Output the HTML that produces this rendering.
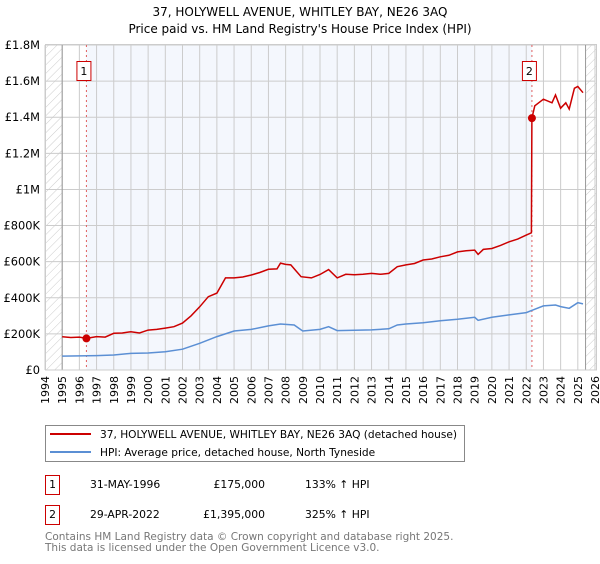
<!DOCTYPE html>
<html><head><meta charset="utf-8"><style>
body{margin:0;background:#fff;width:600px;height:560px;overflow:hidden;font-family:"DejaVu Sans","Liberation Sans",sans-serif;}
svg text{font-family:"DejaVu Sans","Liberation Sans",sans-serif;}
</style></head><body>
<svg id="c" width="600" height="560" xmlns="http://www.w3.org/2000/svg">
<defs><pattern id="hatch" width="6" height="6" patternUnits="userSpaceOnUse" patternTransform="rotate(45)"><line x1="0" y1="0" x2="0" y2="6" stroke="#ccc" stroke-width="1"/></pattern></defs>
<text x="300" y="16" text-anchor="middle" font-size="12">37, HOLYWELL AVENUE, WHITLEY BAY, NE26 3AQ</text>
<text x="300" y="33" text-anchor="middle" font-size="12">Price paid vs. HM Land Registry's House Price Index (HPI)</text>
<g id="plot"></g>
<g>
<rect x="45.5" y="425.5" width="419" height="36" fill="#fff" stroke="#888"/>
<line x1="50" y1="434" x2="91" y2="434" stroke="#cc0000" stroke-width="2"/>
<text x="100" y="438" font-size="10.6">37, HOLYWELL AVENUE, WHITLEY BAY, NE26 3AQ (detached house)</text>
<line x1="50" y1="452" x2="91" y2="452" stroke="#5b8fd4" stroke-width="2"/>
<text x="100" y="456" font-size="10.6">HPI: Average price, detached house, North Tyneside</text>
</g>
<g font-size="10.8">
<rect x="45.5" y="475.5" width="14" height="19" fill="#fff" stroke="#cc0000"/>
<text x="52.5" y="488" text-anchor="middle">1</text>
<text x="90" y="488">31-MAY-1996</text>
<text x="265" y="488" text-anchor="end">£175,000</text>
<text x="305" y="488">133% ↑ HPI</text>
<rect x="45.5" y="505.5" width="14" height="19" fill="#fff" stroke="#cc0000"/>
<text x="52.5" y="518" text-anchor="middle">2</text>
<text x="90" y="518">29-APR-2022</text>
<text x="265" y="518" text-anchor="end">£1,395,000</text>
<text x="305" y="518">325% ↑ HPI</text>
</g>
<text x="45" y="540" font-size="10.5" fill="#777">Contains HM Land Registry data © Crown copyright and database right 2025.</text>
<text x="45" y="551" font-size="10.5" fill="#777">This data is licensed under the Open Government Licence v3.0.</text>
</svg>
<script>
const years=[1995,1995.5,1996,1996.41,1997,1997.5,1998,1998.5,1999,1999.5,2000,2000.5,2001,2001.5,2002,2002.5,2003,2003.5,2004,2004.5,2005,2005.5,2006,2006.5,2007,2007.5,2007.7,2008,2008.3,2008.6,2008.9,2009.5,2010,2010.5,2011,2011.5,2012,2012.5,2013,2013.5,2014,2014.5,2015,2015.5,2016,2016.5,2017,2017.5,2018,2018.5,2019,2019.2,2019.5,2020,2020.5,2021,2021.5,2022,2022.3,2022.33];
const propertyValues=[184,180,182,175,185,182,203,205,212,205,221,225,232,240,260,300,350,406,426,510,510,515,526,540,558,560,592,585,582,550,517,510,529,556,510,530,528,530,535,530,535,572,582,590,609,615,627,635,654,660,664,640,668,673,690,710,725,747,760,1395];
const propYearsTail=[2022.5,2023,2023.5,2023.7,2024,2024.3,2024.5,2024.8,2025,2025.3];
const propValuesTail=[1463,1500,1480,1523,1450,1480,1445,1560,1570,1536];
const hpiYears=[1995,1996,1997,1998,1999,2000,2001,2002,2003,2004,2005,2006,2007,2007.7,2008.5,2008.9,2009,2010,2010.5,2011,2012,2013,2014,2014.5,2015,2016,2017,2018,2019,2019.2,2020,2021,2022,2022.3,2023,2023.7,2024,2024.5,2025,2025.3];
const hpiValues=[77,78,80,83,92,94,101,115,148,185,216,225,244,255,249,222,216,225,240,218,220,222,228,249,255,262,273,281,292,275,292,305,318,329,355,360,351,342,373,366];
const saleYears=[1996.41,2022.33];
const saleValues=[175,1395];
const saleLabels=["1","2"];
const yTicks=[0,200,400,600,800,1000,1200,1400,1600,1800];
const yTickLabels=["£0","£200K","£400K","£600K","£800K","£1M","£1.2M","£1.4M","£1.6M","£1.8M"];
const xTicks=[];for(let y=1994;y<=2026;y++)xTicks.push(y);

const X0=45,X1=595,Y0=370,Y1=45;
const xs=y=>X0+(y-1994)/(2026-1994)*(X1-X0);
const ys=v=>Y0-v/1800*(Y0-Y1);
const NS="http://www.w3.org/2000/svg";
const g=document.getElementById('plot');
function mk(t,a,p){const e=document.createElementNS(NS,t);for(const k in a)e.setAttribute(k,a[k]);(p||g).appendChild(e);return e;}

const bg=mk('rect',{x:X0,y:Y1,width:X1-X0,height:Y0-Y1,fill:'#fff'});


const sh=mk('rect',{x:xs(saleYears[0]),y:Y1,width:xs(saleYears[1])-xs(saleYears[0]),height:Y0-Y1,fill:'#f4f7fd'});


const h1=mk('rect',{x:X0,y:Y1,width:xs(1995)-X0,height:Y0-Y1,fill:'url(#hatch)'});


const h2=mk('rect',{x:xs(2025.45),y:Y1,width:X1-xs(2025.45)+2,height:Y0-Y1,fill:'url(#hatch)'});



yTicks.forEach((v,i)=>{
  const l=mk('line',{x1:X0,x2:X1,y1:ys(v),y2:ys(v),stroke:'#ccc','stroke-width':1});
  
  
  const t=mk('text',{x:40,y:ys(v)+4,'text-anchor':'end','font-size':11.4});
  t.textContent=yTickLabels[i];
  
  
});
xTicks.forEach(y=>{
  const l=mk('line',{x1:xs(y),x2:xs(y),y1:Y1,y2:Y0,stroke:'#ccc','stroke-width':1});
  
  
  const t=mk('text',{x:0,y:0,'text-anchor':'end','font-size':11,transform:`translate(${xs(y)+4},376) rotate(-90)`});
  t.textContent=y;
  
  
});
const ax=mk('line',{x1:xs(1995),x2:xs(1995),y1:Y1,y2:Y0,stroke:'#999'});


const ax2=mk('line',{x1:xs(2025.45),x2:xs(2025.45),y1:Y1,y2:Y0,stroke:'#999'});



saleYears.forEach((y,i)=>{
  const l=mk('line',{x1:xs(y),x2:xs(y),y1:Y1,y2:Y0,stroke:'#e06060','stroke-dasharray':'2,3'});
  
  
});

const hp=hpiYears.map((y,i)=>xs(y).toFixed(1)+','+ys(hpiValues[i]).toFixed(1)).join(' ');
const hl=mk('polyline',{points:hp,fill:'none',stroke:'#5b8fd4','stroke-width':1.5});


const py=years.concat(propYearsTail),pv=propertyValues.concat(propValuesTail);
const pp=py.map((y,i)=>xs(y).toFixed(1)+','+ys(pv[i]).toFixed(1)).join(' ');
const pl=mk('polyline',{points:pp,fill:'none',stroke:'#cc0000','stroke-width':1.5});



saleYears.forEach((y,i)=>{
  const c=mk('circle',{cx:xs(y),cy:ys(saleValues[i]),r:4,fill:'#cc0000'});
  
  
  const bx=xs(y)-10;
  const r=mk('rect',{x:bx+0.5,y:61.5,width:14,height:19,fill:'#fff',stroke:'#cc0000'});
  
  
  const t=mk('text',{x:bx+7.5,y:75,'text-anchor':'middle','font-size':11});
  t.textContent=saleLabels[i];
  
  
});
const bd=mk('rect',{x:X0+0.5,y:Y1-0.5,width:X1-X0+1,height:Y0-Y1+0.5,fill:'none',stroke:'#ccc'});


</script>
</body></html>
